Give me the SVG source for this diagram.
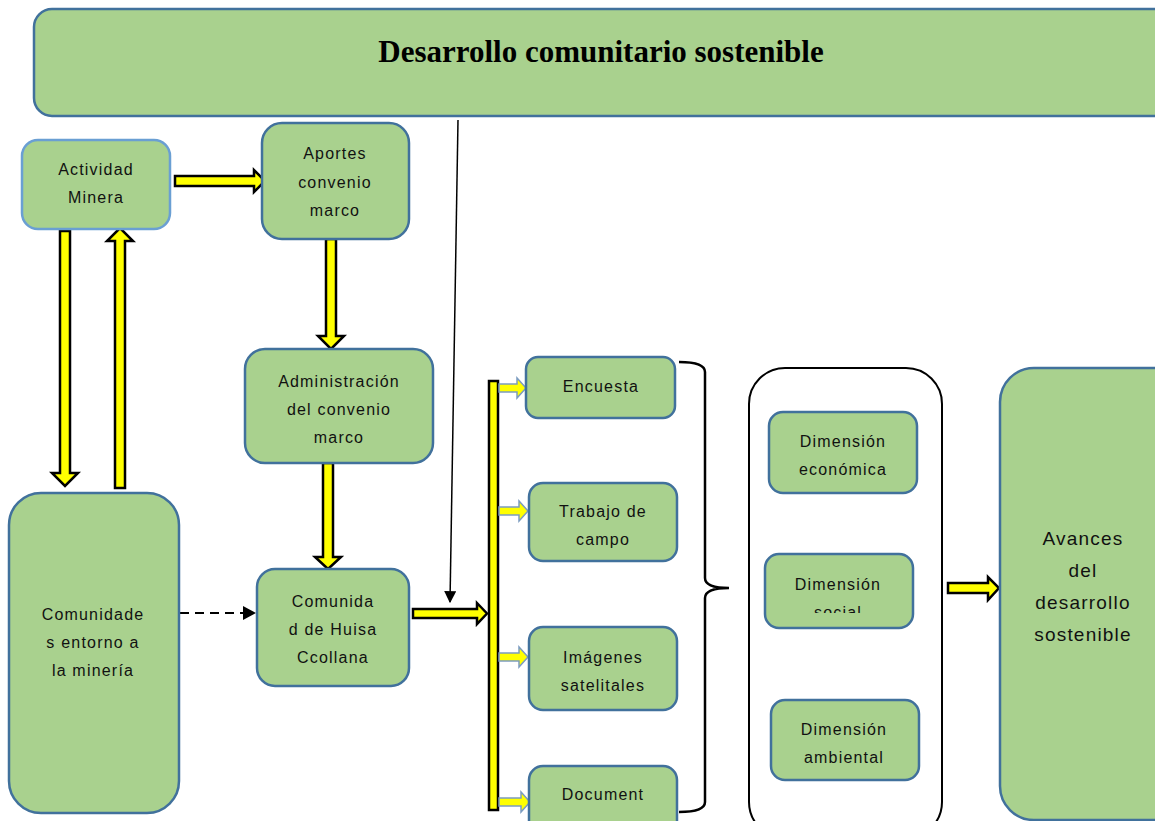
<svg xmlns="http://www.w3.org/2000/svg" width="1155" height="821" viewBox="0 0 1155 821">
  <defs>
    <style>
      .box { fill: #a9d18e; stroke: #41719c; stroke-width: 2.5; }
      .lbl { font-family: "Liberation Sans", Arial, sans-serif; font-size: 16px; letter-spacing: 1.2px; fill: #111; text-anchor: middle; }
      .big { font-size: 19px; }
      .title { font-family: "Liberation Serif", "Times New Roman", serif; font-weight: bold; font-size: 31px; fill: #000; text-anchor: middle; }
      .ya { fill: #ffff00; stroke: #000; stroke-width: 2.5; stroke-linejoin: miter; }
      .ys { fill: #ffff00; stroke: #7c9cc0; stroke-width: 1.5; }
      .thin { fill: none; stroke: #000; stroke-width: 1.5; }
    </style>
    <marker id="tip" viewBox="0 0 10 10" refX="9" refY="5" markerWidth="12" markerHeight="12" orient="auto" markerUnits="userSpaceOnUse">
      <path d="M0,0 L10,5 L0,10 Z" fill="#000"/>
    </marker>
    <clipPath id="socialClip">
      <rect x="760" y="550" width="160" height="63"/>
    </clipPath>
  </defs>

  <rect width="1155" height="821" fill="#fff"/>

  <g id="title-box">
    <rect class="box" x="34" y="9" width="1140" height="107" rx="18"/>
    <text class="title" x="601" y="62">Desarrollo comunitario sostenible</text>
  </g>

  <g id="connectors">
    <!-- yellow block arrows -->
    <path class="ya" d="M175,176 H254 V170 L265,181 L254,192 V186 H175 Z"/>
    <path class="ya" d="M60,231 H70 V473 H78 L65,486 L52,473 H60 Z"/>
    <path class="ya" d="M115,488 V241 H107 L120,228 L133,241 H125 V488 Z"/>
    <path class="ya" d="M326,239 H336 V336 H344 L331,349 L318,336 H326 Z"/>
    <path class="ya" d="M323,463 H333 V557 H341 L328,569 L315,557 H323 Z"/>
    <path class="ya" d="M413,609 H477 V603 L487,613.5 L477,624 V618 H413 Z"/>
    <path class="ya" d="M948,583 H988 V577 L999,588 L988,600 V593 H948 Z"/>
    <!-- distribution bar -->
    <rect class="ya" x="489" y="381" width="9" height="429"/>
    <path class="ys" d="M499,384 H517 V378 L526,388 L517,398 V392 H499 Z"/>
    <path class="ys" d="M499,507 H519 V501 L528,511 L519,521 V515 H499 Z"/>
    <path class="ys" d="M499,653 H519 V647 L528,657 L519,667 V661 H499 Z"/>
    <path class="ys" d="M499,798 H521 V792 L530,802 L521,812 V806 H499 Z"/>
    <!-- dashed and thin black arrows -->
    <line class="thin" x1="180" y1="613" x2="255" y2="613" stroke-dasharray="9,6" style="stroke-width:2.2"/>
    <path d="M243,606 L256,613 L243,620 Z" fill="#000"/>
    <line class="thin" x1="458" y1="120" x2="450" y2="602" marker-end="url(#tip)"/>
    <!-- curly brace -->
    <path class="thin" style="stroke-width:2.5" d="M679,362 Q705,362 705,372 V578 Q705,588 729,588 Q705,588 705,598 V802 Q705,812 679,812"/>
  </g>

  <g id="actividad-minera">
    <rect class="box" x="22" y="140" width="148" height="89" rx="16" style="stroke:#6a9fd3"/>
    <text class="lbl" x="96" y="175">Actividad</text>
    <text class="lbl" x="96" y="203">Minera</text>
  </g>

  <g id="aportes">
    <rect class="box" x="262" y="123" width="147" height="116" rx="20"/>
    <text class="lbl" x="335" y="159">Aportes</text>
    <text class="lbl" x="335" y="188">convenio</text>
    <text class="lbl" x="335" y="216">marco</text>
  </g>

  <g id="administracion">
    <rect class="box" x="245" y="349" width="188" height="114" rx="20"/>
    <text class="lbl" x="339" y="387">Administración</text>
    <text class="lbl" x="339" y="415">del convenio</text>
    <text class="lbl" x="339" y="443">marco</text>
  </g>

  <g id="comunidades">
    <rect class="box" x="9" y="493" width="170" height="320" rx="32"/>
    <text class="lbl" x="93" y="620">Comunidade</text>
    <text class="lbl" x="93" y="648">s entorno a</text>
    <text class="lbl" x="93" y="676">la minería</text>
  </g>

  <g id="huisa">
    <rect class="box" x="257" y="569" width="152" height="117" rx="18"/>
    <text class="lbl" x="333" y="607">Comunida</text>
    <text class="lbl" x="333" y="635">d de Huisa</text>
    <text class="lbl" x="333" y="663">Ccollana</text>
  </g>

  <g id="encuesta">
    <rect class="box" x="526" y="357" width="149" height="61" rx="12"/>
    <text class="lbl" x="601" y="392">Encuesta</text>
  </g>

  <g id="trabajo">
    <rect class="box" x="529" y="483" width="148" height="78" rx="14"/>
    <text class="lbl" x="603" y="517">Trabajo de</text>
    <text class="lbl" x="603" y="545">campo</text>
  </g>

  <g id="imagenes">
    <rect class="box" x="529" y="627" width="148" height="83" rx="14"/>
    <text class="lbl" x="603" y="663">Imágenes</text>
    <text class="lbl" x="603" y="691">satelitales</text>
  </g>

  <g id="document">
    <rect class="box" x="529" y="766" width="148" height="80" rx="14"/>
    <text class="lbl" x="603" y="800">Document</text>
  </g>

  <g id="dimensiones">
    <rect x="749" y="368" width="193" height="470" rx="36" fill="#fff" stroke="#000" stroke-width="2"/>
    <g id="dim-economica">
      <rect class="box" x="769" y="412" width="148" height="81" rx="14"/>
      <text class="lbl" x="843" y="447">Dimensión</text>
      <text class="lbl" x="843" y="475">económica</text>
    </g>
    <g id="dim-social">
      <rect class="box" x="765" y="554" width="148" height="74" rx="14"/>
      <g clip-path="url(#socialClip)">
        <text class="lbl" x="838" y="590">Dimensión</text>
        <text class="lbl" x="838" y="618">social</text>
      </g>
    </g>
    <g id="dim-ambiental">
      <rect class="box" x="771" y="700" width="148" height="80" rx="14"/>
      <text class="lbl" x="844" y="735">Dimensión</text>
      <text class="lbl" x="844" y="763">ambiental</text>
    </g>
  </g>

  <g id="avances">
    <rect class="box" x="1000" y="368" width="190" height="452" rx="34"/>
    <text class="lbl big" x="1083" y="545">Avances</text>
    <text class="lbl big" x="1083" y="577">del</text>
    <text class="lbl big" x="1083" y="609">desarrollo</text>
    <text class="lbl big" x="1083" y="641">sostenible</text>
  </g>
</svg>
